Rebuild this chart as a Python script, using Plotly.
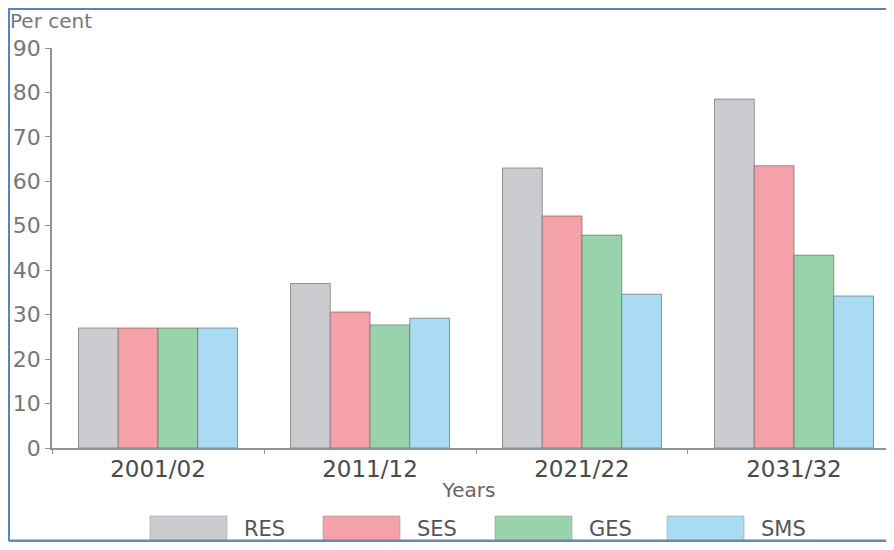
import plotly.graph_objects as go

# Data
years = ["2001/02", "2011/12", "2021/22", "2031/32"]
res = [27, 37, 63, 78.5]
ses = [27, 30.6, 52.2, 63.5]
ges = [27, 27.7, 47.9, 43.4]
sms = [27, 29.2, 34.6, 34.2]

series = [("RES", res, "#cbcccf"), ("SES", ses, "#f4a1a9"),
          ("GES", ges, "#98d3ab"), ("SMS", sms, "#a9dbf3")]

fig = go.Figure()
for name, vals, col in series:
    fig.add_trace(go.Bar(x=years, y=vals, name=name, showlegend=False,
                         marker=dict(color=col, line=dict(color="rgba(110,110,110,0.7)", width=1))))

# the page puts the figure 8px in from the corner; keep it small enough to avoid scrollbars
OFF = 8
W, H = 894 - 2 * OFF, 550 - 2 * OFF
L, R, T, B = 44, 0, 40, 94
pw, ph = W - L - R, H - T - B

def px(sx):
    return (sx - OFF - L) / pw

def py(sy):
    return (H - B - (sy - OFF)) / ph

fig.update_layout(
    width=W, height=H,
    margin=dict(l=L, r=R, t=T, b=B, autoexpand=False),
    paper_bgcolor="white", plot_bgcolor="white",
    barmode="group", bargap=0.25, bargroupgap=0,
    font=dict(family="DejaVu Sans", color="#555"),
    xaxis=dict(range=[-0.5, 3.434], showline=True, linecolor="#8a949c", linewidth=1.5,
               ticks="outside", tickson="boundaries", ticklen=4, tickcolor="#8a949c",
               tickfont=dict(size=23, color="#4a4a4a"),
               showgrid=False, zeroline=False, automargin=False,
               title=dict(text="Years", font=dict(size=20, color="#666"), standoff=2)),
    yaxis=dict(range=[0, 90], dtick=10, showline=True, linecolor="#8a949c", linewidth=1.5,
               ticks="outside", ticklen=5, tickcolor="#8a949c", automargin=False,
               tickfont=dict(size=22, color="#777"), showgrid=False, zeroline=False),
)

fig.add_annotation(text="Per cent", xref="paper", yref="paper", x=px(8), y=py(21),
                   xanchor="left", yanchor="middle", showarrow=False,
                   font=dict(size=20, color="#777"))

# legend boxes drawn manually (large swatches as in the original)
leg_x = [150, 323, 495, 667]
for (name, vals, col), lx in zip(series, leg_x):
    fig.add_shape(type="rect", xref="paper", yref="paper",
                  x0=px(lx), x1=px(lx + 77), y0=py(541), y1=py(516),
                  fillcolor=col, line=dict(color="rgba(150,150,150,0.5)", width=1))
    fig.add_annotation(text=name, xref="paper", yref="paper", x=px(lx + 92), y=py(529),
                       xanchor="left", yanchor="middle", showarrow=False,
                       font=dict(size=21, color="#555"))

# frame around the picture
fig.add_shape(type="line", xref="paper", yref="paper", x0=px(9), x1=px(9), y0=py(541), y1=py(8),
              line=dict(color="#5a82c0", width=2), layer="above")
fig.add_shape(type="line", xref="paper", yref="paper", x0=px(9), x1=px(886), y0=py(9), y1=py(9),
              line=dict(color="#5a82c0", width=2), layer="above")
fig.add_shape(type="line", xref="paper", yref="paper", x0=px(9), x1=px(886), y0=py(541), y1=py(541),
              line=dict(color="#7086a8", width=3), layer="above")

fig.write_html("out.html")
